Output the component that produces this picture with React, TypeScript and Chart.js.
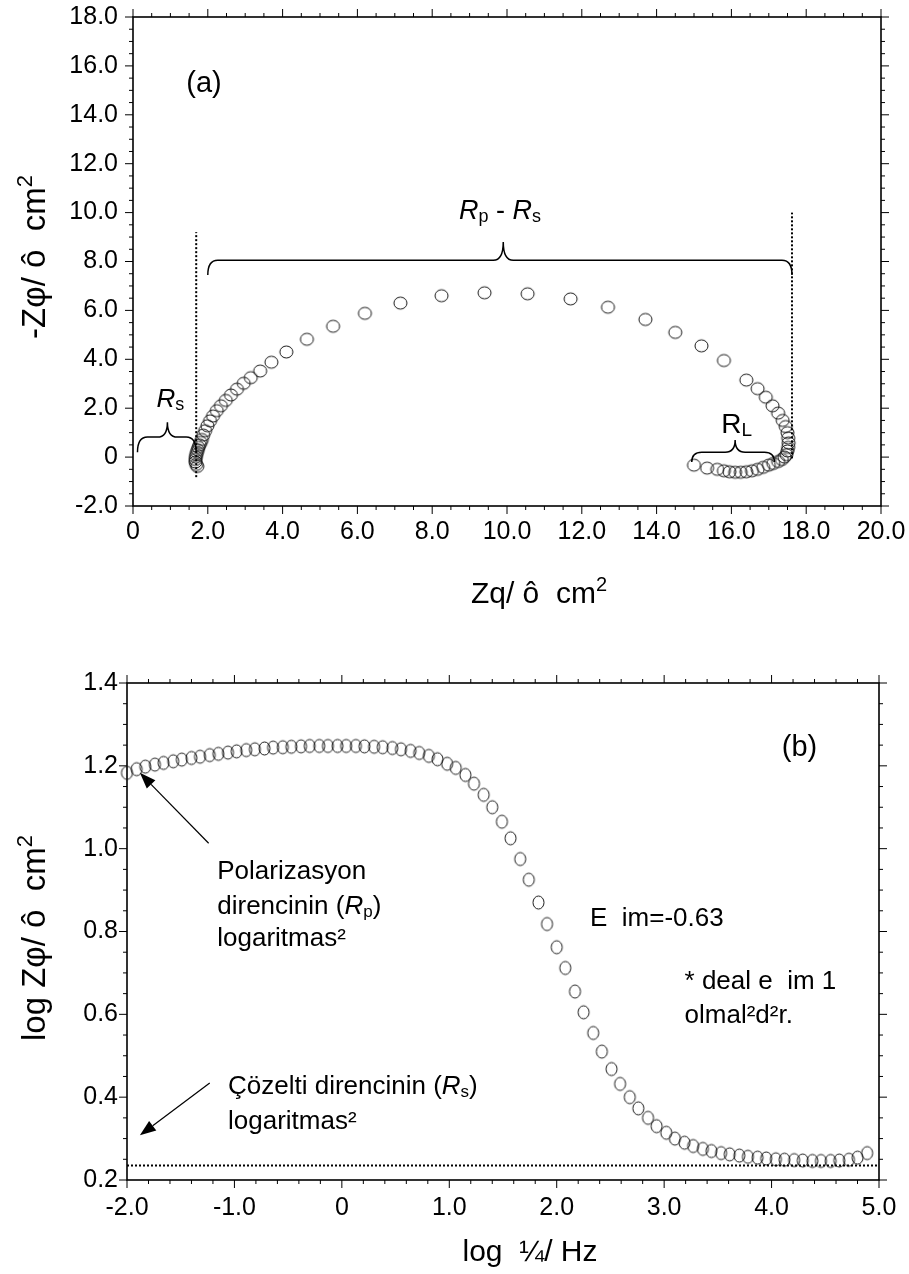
import React, { useEffect, useRef } from 'react';
import { Chart, registerables } from 'chart.js';
Chart.register(...registerables);

const FONT = '"Liberation Sans", Arial, Helvetica, sans-serif';

// ---------- Chart (a): Nyquist ----------
const nyquistRe = [
  1.72, 1.69, 1.67, 1.67, 1.68, 1.69, 1.71, 1.73, 1.75, 1.78,
  1.81, 1.84, 1.88, 1.93, 1.99, 2.06, 2.14, 2.24, 2.35, 2.48,
  2.62, 2.78, 2.96, 3.15, 3.4, 3.7, 4.1, 4.65, 5.35, 6.2,
  7.15, 8.25, 9.4, 10.55, 11.7, 12.7, 13.7, 14.5, 15.2, 15.8,
  16.4, 16.7, 16.92, 17.1, 17.25, 17.37, 17.45, 17.5, 17.52, 17.53,
  17.52, 17.5, 17.47, 17.42, 17.35, 17.25, 17.12, 17.0, 16.85, 16.7,
  16.55, 16.4, 16.25, 16.1, 15.95, 15.8, 15.62, 15.35, 15.0,
];
const nyquistIm = [
  -0.38, -0.3, -0.2, -0.1, 0.0, 0.1, 0.2, 0.3, 0.4, 0.5,
  0.6, 0.72, 0.9, 1.08, 1.28, 1.48, 1.68, 1.9, 2.1, 2.32,
  2.54, 2.78, 3.02, 3.25, 3.52, 3.88, 4.3, 4.82, 5.35, 5.88,
  6.3, 6.6, 6.72, 6.68, 6.47, 6.13, 5.63, 5.1, 4.55, 3.95,
  3.15, 2.8, 2.45, 2.1, 1.8, 1.5, 1.25, 1.0, 0.78, 0.58,
  0.4, 0.25, 0.1, 0.0, -0.1, -0.18, -0.26, -0.33, -0.42, -0.5,
  -0.56, -0.6, -0.62, -0.62, -0.6, -0.56, -0.5, -0.45, -0.33,
];
const aXRange = [0, 20];
const aYRange = [-2, 18];

// ---------- Chart (b): Bode |Z| ----------
const logFreq = [
  -2.0, -1.91, -1.83, -1.74, -1.66, -1.57, -1.49, -1.4, -1.32, -1.23,
  -1.15, -1.06, -0.98, -0.89, -0.81, -0.72, -0.64, -0.55, -0.47, -0.38,
  -0.3, -0.21, -0.13, -0.04, 0.04, 0.13, 0.21, 0.3, 0.38, 0.47,
  0.55, 0.64, 0.72, 0.81, 0.89, 0.98, 1.06, 1.15, 1.23, 1.32,
  1.4, 1.49, 1.57, 1.66, 1.74, 1.83, 1.91, 2.0, 2.08, 2.17,
  2.25, 2.34, 2.42, 2.51, 2.59, 2.68, 2.76, 2.85, 2.93, 3.02,
  3.1, 3.19, 3.27, 3.36, 3.44, 3.53, 3.61, 3.7, 3.78, 3.87,
  3.95, 4.04, 4.12, 4.21, 4.29, 4.38, 4.46, 4.55, 4.63, 4.72,
  4.8, 4.89,
];
const logMod = [
  1.183, 1.192, 1.198, 1.203, 1.207, 1.211, 1.215, 1.219, 1.222, 1.226,
  1.229, 1.232, 1.235, 1.238, 1.24, 1.242, 1.244, 1.245, 1.246, 1.247,
  1.248, 1.248, 1.248, 1.248, 1.248, 1.248, 1.247, 1.246, 1.245, 1.243,
  1.24, 1.236, 1.231, 1.224, 1.216, 1.205, 1.195, 1.178, 1.157, 1.13,
  1.1, 1.065, 1.025, 0.975, 0.925, 0.87, 0.818, 0.762, 0.712, 0.655,
  0.605, 0.555, 0.51, 0.468, 0.432, 0.4, 0.373, 0.35, 0.33, 0.314,
  0.3, 0.29, 0.282, 0.275, 0.27, 0.265, 0.262, 0.259, 0.256, 0.254,
  0.252, 0.25, 0.249, 0.248, 0.247, 0.246, 0.246, 0.246, 0.247, 0.249,
  0.254, 0.265,
];
const rsLevel = 0.235;
const bXRange = [-2, 5];
const bYRange = [0.2, 1.4];

// ---------- helpers ----------
const font = (s: number, it = false) => `${it ? 'italic ' : ''}${s}px ${FONT}`;
type Seg = { t: string; s: number; i?: boolean; dy?: number };

function drawRich(ctx: CanvasRenderingContext2D, segs: Seg[], x: number, y: number, align: 'left' | 'center' = 'left') {
  let w = 0;
  for (const g of segs) { ctx.font = font(g.s, g.i); w += ctx.measureText(g.t).width; }
  let cx = align === 'center' ? x - w / 2 : x;
  ctx.textAlign = 'left';
  ctx.textBaseline = 'alphabetic';
  ctx.fillStyle = '#000';
  for (const g of segs) {
    ctx.font = font(g.s, g.i);
    ctx.fillText(g.t, cx, y + (g.dy || 0));
    cx += ctx.measureText(g.t).width;
  }
}

function brace(ctx: CanvasRenderingContext2D, x1: number, x2: number, xm: number, yLine: number, yEnd: number, yTip: number) {
  const r = 10;
  ctx.beginPath();
  ctx.moveTo(x1, yEnd);
  ctx.quadraticCurveTo(x1, yLine, x1 + r, yLine);
  ctx.lineTo(xm - r, yLine);
  ctx.quadraticCurveTo(xm, yLine, xm, yTip);
  ctx.quadraticCurveTo(xm, yLine, xm + r, yLine);
  ctx.lineTo(x2 - r, yLine);
  ctx.quadraticCurveTo(x2, yLine, x2, yEnd);
  ctx.stroke();
}

function arrow(ctx: CanvasRenderingContext2D, x1: number, y1: number, x2: number, y2: number) {
  const ang = Math.atan2(y2 - y1, x2 - x1);
  const L = 16, W = 6;
  const bx = x2 - L * Math.cos(ang), by = y2 - L * Math.sin(ang);
  ctx.beginPath();
  ctx.moveTo(x1, y1);
  ctx.lineTo(bx, by);
  ctx.stroke();
  ctx.beginPath();
  ctx.moveTo(x2, y2);
  ctx.lineTo(bx + W * Math.sin(ang), by - W * Math.cos(ang));
  ctx.lineTo(bx - W * Math.sin(ang), by + W * Math.cos(ang));
  ctx.closePath();
  ctx.fill();
}

function dotted(ctx: CanvasRenderingContext2D, x1: number, y1: number, x2: number, y2: number) {
  ctx.save();
  ctx.setLineDash([2, 2]);
  ctx.lineWidth = 2;
  ctx.beginPath();
  ctx.moveTo(x1, y1);
  ctx.lineTo(x2, y2);
  ctx.stroke();
  ctx.restore();
}

function drawFrame(chart: any, xMinor: number, xMajor: number, yMinor: number, yMajor: number) {
  const { ctx, chartArea } = chart;
  const { left, right, top, bottom } = chartArea;
  const xs = chart.scales.x, ys = chart.scales.y;
  ctx.save();
  ctx.strokeStyle = '#000';
  ctx.lineWidth = 1.6;
  ctx.strokeRect(left, top, right - left, bottom - top);
  ctx.lineWidth = 1;
  const isMaj = (v: number, m: number) => Math.abs(v / m - Math.round(v / m)) < 1e-6;
  const n1 = Math.round((xs.max - xs.min) / xMinor);
  ctx.beginPath();
  for (let i = 0; i <= n1; i++) {
    const v = xs.min + i * xMinor;
    const L = isMaj(v, xMajor) ? 8 : 4;
    const p = xs.getPixelForValue(v);
    ctx.moveTo(p, bottom); ctx.lineTo(p, bottom + L);
    ctx.moveTo(p, top); ctx.lineTo(p, top - L);
  }
  const n2 = Math.round((ys.max - ys.min) / yMinor);
  for (let i = 0; i <= n2; i++) {
    const v = ys.min + i * yMinor;
    const L = isMaj(v, yMajor) ? 8 : 4;
    const p = ys.getPixelForValue(v);
    ctx.moveTo(left, p); ctx.lineTo(left - L, p);
    ctx.moveTo(right, p); ctx.lineTo(right + L, p);
  }
  ctx.stroke();
  ctx.restore();
}

function fmt(v: number) {
  const r = Math.round(v * 10) / 10;
  return r === 0 ? '0' : r.toFixed(1);
}

const noPad = (s: any) => { s.paddingTop = 0; s.paddingBottom = 0; s.paddingLeft = 0; s.paddingRight = 0; };

function baseOptions(xr: number[], yr: number[], xStep: number, yStep: number, pad: any, xH: number, yW: number, xPad: number, yPad: number) {
  return {
    responsive: false,
    animation: false as const,
    layout: { padding: pad, autoPadding: false },
    plugins: { legend: { display: false }, tooltip: { enabled: false } },
    scales: {
      x: {
        type: 'linear', min: xr[0], max: xr[1],
        grid: { display: false, drawTicks: false }, border: { display: false },
        ticks: { stepSize: xStep, autoSkip: false, maxRotation: 0, padding: xPad, color: '#000', font: { family: FONT, size: 25 }, callback: (v: any) => fmt(Number(v)) },
        afterFit: (s: any) => { s.height = xH; noPad(s); },
      },
      y: {
        type: 'linear', min: yr[0], max: yr[1],
        grid: { display: false, drawTicks: false }, border: { display: false },
        ticks: { stepSize: yStep, autoSkip: false, padding: yPad, color: '#000', font: { family: FONT, size: 25 }, callback: (v: any) => fmt(Number(v)) },
        afterFit: (s: any) => { s.width = yW; noPad(s); },
      },
    },
  };
}

function ellipseMarker(w: number, h: number) {
  const c = document.createElement('canvas');
  c.width = w + 4; c.height = h + 4;
  const g = c.getContext('2d')!;
  g.strokeStyle = '#1a1a1a';
  g.lineWidth = 1;
  g.beginPath();
  g.ellipse(c.width / 2, c.height / 2, w / 2, h / 2, 0, 0, Math.PI * 2);
  g.stroke();
  return c;
}

export default function App() {
  const refA = useRef<HTMLCanvasElement>(null);
  const refB = useRef<HTMLCanvasElement>(null);

  useEffect(() => {
    const markA = ellipseMarker(13, 12);
    const markB = ellipseMarker(11, 13);
    const plugA = {
      id: 'annotA',
      beforeDatasetsDraw(chart: any) { drawFrame(chart, 0.5, 2, 0.5, 2); },
      afterDatasetsDraw(chart: any) {
        const ctx = chart.ctx as CanvasRenderingContext2D;
        const X = (v: number) => chart.scales.x.getPixelForValue(v);
        const Y = (v: number) => chart.scales.y.getPixelForValue(v);
        ctx.save();
        ctx.strokeStyle = '#000'; ctx.fillStyle = '#000'; ctx.lineWidth = 1.5;
        dotted(ctx, X(1.69), Y(-0.82), X(1.69), Y(9.2));
        dotted(ctx, X(17.62), Y(-0.05), X(17.62), Y(10.0));
        brace(ctx, X(0.12), X(1.69), X(0.92), Y(0.82), Y(0.2), Y(1.43));
        brace(ctx, X(2.0), X(17.62), X(9.9), Y(8.05), Y(7.45), Y(8.8));
        brace(ctx, X(14.94), X(17.15), X(16.1), Y(0.2), Y(-0.2), Y(0.7));
        drawRich(ctx, [{ t: '(a)', s: 29 }], X(1.9), Y(15.34) + 10, 'center');
        drawRich(ctx, [{ t: 'R', s: 26, i: true }, { t: 's', s: 18, dy: 3 }], X(1.0), Y(2.41) + 9, 'center');
        drawRich(ctx, [{ t: 'R', s: 27, i: true }, { t: 'p', s: 18, dy: 3 }, { t: ' - ', s: 27 }, { t: 'R', s: 27, i: true }, { t: 's', s: 18, dy: 3 }], X(9.81), Y(10.1) + 9, 'center');
        drawRich(ctx, [{ t: 'R', s: 28 }, { t: 'L', s: 19, dy: 3 }], X(16.14), Y(1.39) + 10, 'center');
        // axis titles
        drawRich(ctx, [{ t: 'Zq/ ô  cm', s: 30 }, { t: '2', s: 20, dy: -12 }], 539, 603, 'center');
        ctx.save();
        ctx.translate(45, 257);
        ctx.rotate(-Math.PI / 2);
        drawRich(ctx, [{ t: '-Zφ/ ô  cm', s: 33 }, { t: '2', s: 22, dy: -13 }], 0, 0, 'center');
        ctx.restore();
        ctx.restore();
      },
    };
    const plugB = {
      id: 'annotB',
      beforeDatasetsDraw(chart: any) { drawFrame(chart, 0.2, 1, 0.05, 0.2); },
      afterDatasetsDraw(chart: any) {
        const ctx = chart.ctx as CanvasRenderingContext2D;
        const X = (v: number) => chart.scales.x.getPixelForValue(v);
        const Y = (v: number) => chart.scales.y.getPixelForValue(v);
        ctx.save();
        ctx.strokeStyle = '#000'; ctx.fillStyle = '#000'; ctx.lineWidth = 1.2;
        dotted(ctx, X(bXRange[0]), Y(rsLevel), X(bXRange[1]), Y(rsLevel));
        arrow(ctx, X(-1.24), Y(1.013), X(-1.88), Y(1.183));
        arrow(ctx, X(-1.23), Y(0.434), X(-1.88), Y(0.308));
        const fs = 26;
        drawRich(ctx, [{ t: 'Polarizasyon', s: fs }], X(-1.16), Y(0.948) + 9);
        drawRich(ctx, [{ t: 'direncinin (', s: fs }, { t: 'R', s: fs, i: true }, { t: 'p', s: 17, dy: 3 }, { t: ')', s: fs }], X(-1.16), Y(0.864) + 9);
        drawRich(ctx, [{ t: 'logaritmas²', s: fs }], X(-1.16), Y(0.786) + 9);
        drawRich(ctx, [{ t: 'E  im=-0.63', s: fs }], X(2.31), Y(0.835) + 9);
        drawRich(ctx, [{ t: '* deal e  im 1', s: fs }], X(3.19), Y(0.683) + 9);
        drawRich(ctx, [{ t: 'olmal²d²r.', s: fs }], X(3.19), Y(0.6) + 9);
        drawRich(ctx, [{ t: 'Çözelti direncinin (', s: fs }, { t: 'R', s: fs, i: true }, { t: 's', s: 17, dy: 3 }, { t: ')', s: fs }], X(-1.06), Y(0.429) + 9);
        drawRich(ctx, [{ t: 'logaritmas²', s: fs }], X(-1.06), Y(0.344) + 9);
        drawRich(ctx, [{ t: '(b)', s: 29 }], X(4.26), Y(1.248) + 10, 'center');
        // axis titles
        drawRich(ctx, [{ t: 'log  ¼/ Hz', s: 30 }], 530, 1261 - 640, 'center');
        ctx.save();
        ctx.translate(45, 938 - 640);
        ctx.rotate(-Math.PI / 2);
        drawRich(ctx, [{ t: 'log Zφ/ ô  cm', s: 33 }, { t: '2', s: 22, dy: -13 }], 0, 0, 'center');
        ctx.restore();
        ctx.restore();
      },
    };

    const chartA = new Chart(refA.current!, {
      type: 'scatter',
      data: {
        datasets: [{
          data: nyquistRe.map((x, i) => ({ x, y: nyquistIm[i] })),
          pointStyle: markA as any, pointRadius: 6.5, showLine: false, clip: false as any,
        }],
      },
      options: baseOptions(aXRange, aYRange, 2, 2, { top: 17, right: 28, left: 0, bottom: 0 }, 134, 133, 11, 15) as any,
      plugins: [plugA],
    });
    const chartB = new Chart(refB.current!, {
      type: 'scatter',
      data: {
        datasets: [{
          data: logFreq.map((x, i) => ({ x, y: logMod[i] })),
          pointStyle: markB as any, pointRadius: 6.5, showLine: false, clip: false as any,
        }],
      },
      options: baseOptions(bXRange, bYRange, 1, 0.2, { top: 43, right: 30, left: 0, bottom: 0 }, 94, 127, 13, 9) as any,
      plugins: [plugB],
    });
    return () => { chartA.destroy(); chartB.destroy(); };
  }, []);

  return (
    <div style={{ position: 'absolute', left: 0, top: 0, width: 909, height: 1274, background: '#fff' }}>
      <canvas ref={refA} width={909} height={640} style={{ position: 'absolute', left: 0, top: 0, display: 'block' }} />
      <canvas ref={refB} width={909} height={634} style={{ position: 'absolute', left: 0, top: 640, display: 'block' }} />
    </div>
  );
}
